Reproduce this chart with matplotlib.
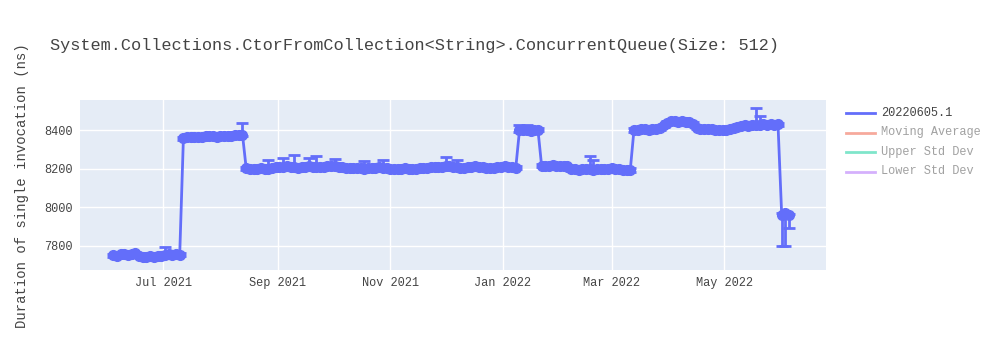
import numpy as np
import pandas as pd
import matplotlib
matplotlib.use('Agg')
import matplotlib.pyplot as plt
import matplotlib.dates as mdates
from matplotlib.lines import Line2D

plt.rcParams['font.family'] = ['Liberation Mono', 'DejaVu Sans Mono']

title = 'System.Collections.CtorFromCollection<String>.ConcurrentQueue(Size: 512)'
ylabel = 'Duration of single invocation (ns)'
series_name = '20220605.1'
hidden_names = ['Moving Average', 'Upper Std Dev', 'Lower Std Dev']

# one run every two days, starting 2021-06-04
start_date = '2021-06-04'
low1 = [7752, 7750, 7756, 7760, 7754, 7758, 7762, 7748, 7745, 7744,
        7746, 7743, 7748, 7750, 7752, 7756, 7754, 7758, 7755]
high1 = [8358, 8362, 8365, 8363, 8366, 8364, 8367, 8370, 8368, 8366,
         8369, 8367, 8368, 8370, 8372, 8374, 8376]
mid1 = [8202, 8200, 8198, 8199, 8201, 8197, 8200, 8203, 8206,
        8210, 8208, 8212, 8210, 8207, 8205, 8208, 8211, 8213, 8210,
        8208, 8206, 8209, 8212, 8214, 8212, 8210, 8206, 8204, 8203,
        8205, 8204, 8202, 8200, 8203, 8205, 8204, 8206, 8203, 8201,
        8200, 8198, 8197, 8200, 8202, 8199, 8197, 8200, 8203, 8205,
        8204, 8206, 8208, 8207, 8210, 8212, 8213, 8210, 8208, 8205,
        8203, 8207, 8210, 8212, 8209, 8206, 8204, 8203, 8205, 8208,
        8210, 8212, 8209, 8207, 8205]
jan = [8398, 8402, 8400, 8396, 8399, 8401]
mid2 = [8214, 8216, 8215, 8217, 8214, 8216, 8213, 8212, 8198, 8196,
        8195, 8197, 8199, 8196, 8194, 8198, 8200, 8197, 8199, 8201,
        8198, 8196, 8195, 8194, 8193]
high2 = [8400, 8402, 8403, 8404, 8402, 8405, 8407, 8410, 8425, 8438,
         8445, 8448, 8444, 8446, 8442, 8440, 8432, 8412, 8406, 8404,
         8405, 8403, 8401, 8400, 8402, 8401, 8403, 8410, 8418, 8422,
         8424, 8423, 8426, 8428, 8427, 8429, 8428, 8430, 8428, 8430]
end = [7962, 7968, 7958]

base_err = 8
err_up_extra = {'2021-07-01': 42, '2021-08-13': 62, '2021-08-26': 44,
                '2021-09-03': 46, '2021-09-09': 62, '2021-09-18': 44,
                '2021-09-22': 55, '2021-10-02': 38, '2021-10-17': 40,
                '2021-10-28': 42, '2021-12-01': 46, '2021-12-07': 38,
                '2022-01-10': 30, '2022-01-14': 28, '2022-02-16': 70,
                '2022-02-18': 52, '2022-05-18': 85, '2022-05-20': 45}
err_down_extra = {'2022-06-01': 162, '2022-06-03': 168, '2022-06-05': 65}

values = np.array(low1 + high1 + mid1 + jan + mid2 + high2 + end, dtype=float)
dates = pd.date_range(start_date, periods=len(values), freq='2D')

err_up = np.full(len(values), base_err, dtype=float)
err_down = np.full(len(values), base_err, dtype=float)
for d, e in err_up_extra.items():
    i = dates.get_indexer([pd.Timestamp(d)], method='nearest')[0]
    err_up[i] = e
for d, e in err_down_extra.items():
    i = dates.get_indexer([pd.Timestamp(d)], method='nearest')[0]
    err_down[i] = e

blue = '#636EFA'
text_col = '#444444'

fig = plt.figure(figsize=(10, 3.5), dpi=100)
ax = fig.add_axes([0.08, 0.229, 0.746, 0.485])
ax.set_facecolor('#E5ECF6')
ax.errorbar(dates, values, yerr=[err_down, err_up], fmt='-o', color=blue,
            ms=7, lw=2, elinewidth=2, capsize=4, capthick=2, zorder=3)

ax.set_ylim(7676, 8555)
ax.set_xlim(pd.Timestamp('2021-05-17'), pd.Timestamp('2022-06-25'))
ax.set_yticks([7800, 8000, 8200, 8400])
ax.xaxis.set_major_locator(mdates.MonthLocator(bymonth=[1, 3, 5, 7, 9, 11]))
ax.xaxis.set_major_formatter(mdates.DateFormatter('%b %Y'))
ax.grid(True, color='white', lw=1, zorder=0)
ax.set_axisbelow(True)
for s in ax.spines.values():
    s.set_visible(False)
ax.tick_params(length=0, labelsize=8.6, labelcolor=text_col, pad=5)

fig.text(0.05, 0.87, title, fontsize=12.2, color=text_col, va='center')
fig.text(0.022, 0.47, ylabel, fontsize=10, color=text_col, rotation=90,
         va='center', ha='center')

# legend drawn by hand: first entry visible, others legend-only (faded)
leg_colors = [blue, '#EF553B', '#00CC96', '#AB63FA']
leg_names = [series_name] + hidden_names
for k, (name, c) in enumerate(zip(leg_names, leg_colors)):
    y = 1 - (113 + 19.5 * k) / 350
    a = 1.0 if k == 0 else 0.5
    fig.add_artist(Line2D([0.846, 0.875], [y, y], color=c, lw=2, alpha=a,
                          transform=fig.transFigure))
    fig.text(0.881, y, name, fontsize=8.6, color=text_col, alpha=a, va='center')

fig.savefig('out.png', dpi=100)
